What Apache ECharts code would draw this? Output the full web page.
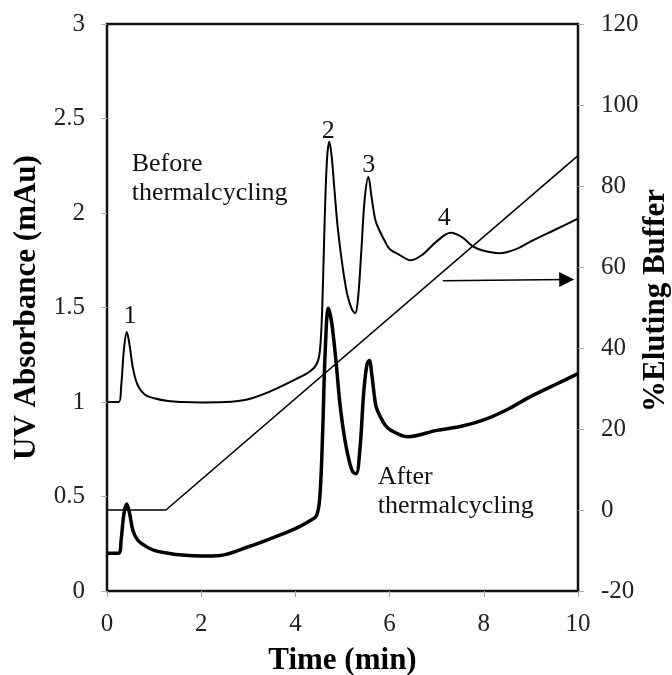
<!DOCTYPE html>
<html>
<head>
<meta charset="utf-8">
<script src="https://cdn.jsdelivr.net/npm/echarts@6/dist/echarts.min.js"></script>
<style>html,body{margin:0;padding:0;background:#fff;overflow:hidden}#c{width:672px;height:675px;display:block}</style>
</head>
<body>
<div id="c"></div>
<script>
// ---- data ----
var xTicks = [0, 2, 4, 6, 8, 10];
var leftTicks = [0, 0.5, 1, 1.5, 2, 2.5, 3];
var rightTicks = [-20, 0, 20, 40, 60, 80, 100, 120];

var beforeX = [0, 0.25, 0.3, 0.36, 0.42, 0.48, 0.55, 0.65, 0.8, 1.0, 1.3, 1.6, 2.0, 2.5, 3.0, 3.5, 4.0, 4.3, 4.45, 4.52, 4.57, 4.62, 4.67, 4.72, 4.77, 4.83, 4.9, 5.0, 5.1, 5.2, 5.27, 5.33, 5.4, 5.47, 5.55, 5.62, 5.7, 5.78, 5.9, 6.0, 6.2, 6.45, 6.7, 7.0, 7.3, 7.55, 7.76, 8.0, 8.33, 8.7, 9.0, 9.5, 10.0];
var beforeY = [1.0, 1.0, 1.08, 1.28, 1.37, 1.3, 1.18, 1.09, 1.04, 1.02, 1.005, 1.0, 0.998, 1.0, 1.015, 1.06, 1.12, 1.16, 1.2, 1.27, 1.5, 1.95, 2.28, 2.377, 2.3, 2.12, 1.92, 1.72, 1.57, 1.49, 1.47, 1.55, 1.8, 2.07, 2.19, 2.08, 1.96, 1.91, 1.85, 1.81, 1.78, 1.75, 1.78, 1.85, 1.895, 1.87, 1.825, 1.8, 1.787, 1.81, 1.85, 1.91, 1.97];

var afterX = [0, 0.25, 0.3, 0.36, 0.42, 0.48, 0.55, 0.65, 0.8, 1.0, 1.3, 1.6, 2.0, 2.4, 3.0, 3.5, 4.0, 4.3, 4.45, 4.52, 4.58, 4.63, 4.7, 4.77, 4.86, 4.95, 5.05, 5.15, 5.22, 5.29, 5.37, 5.45, 5.52, 5.57, 5.62, 5.7, 5.75, 5.9, 6.03, 6.38, 7.0, 7.5, 8.0, 8.5, 9.0, 9.5, 10.0];
var afterY = [0.2, 0.2, 0.27, 0.41, 0.46, 0.41, 0.32, 0.27, 0.24, 0.215, 0.2, 0.19, 0.185, 0.188, 0.234, 0.28, 0.33, 0.37, 0.4, 0.5, 0.85, 1.25, 1.496, 1.42, 1.22, 0.98, 0.8, 0.68, 0.63, 0.62, 0.75, 1.05, 1.2, 1.22, 1.15, 0.99, 0.95, 0.88, 0.85, 0.816, 0.85, 0.87, 0.905, 0.96, 1.03, 1.09, 1.15];

var gradientX = [0, 1.25, 10];
var gradientY = [0, 0, 87.5];

var arrowStart = [7.13, 1.642];
var arrowEnd = [9.76, 1.648];

var peakLabels = ['1', '2', '3', '4'];
var peakLabelX = [0.49, 4.70, 5.556, 7.16];
var peakLabelY = [1.455, 2.434, 2.254, 1.974];

var noteTexts = ['Before\nthermalcycling', 'After\nthermalcycling'];
var noteX = [0.524, 5.75];
var noteY = [2.18, 0.525];

function zip(a, b) { return a.map(function (v, i) { return [v, b[i]]; }); }

var FONT = '"Liberation Serif", "Times New Roman", serif';
var chart = echarts.init(document.getElementById('c'), null, { renderer: 'canvas', width: 672, height: 675 });

var option = {
  animation: false,
  backgroundColor: '#fff',
  grid: { left: 107, right: 94, top: 24, bottom: 84, containLabel: false, outerBoundsMode: 'none',
    show: true, borderColor: '#111', borderWidth: 2.5, backgroundColor: 'transparent' },
  xAxis: {
    type: 'value', min: 0, max: 10, interval: 2,
    name: 'Time (min)', nameLocation: 'middle', nameGap: 54, nameMoveOverlap: false,
    nameTextStyle: { fontFamily: FONT, fontWeight: 'bold', fontSize: 31, color: '#000' },
    axisLine: { show: false },
    axisTick: { show: true, length: 6, lineStyle: { color: '#aaa', width: 1 } },
    axisLabel: { fontFamily: FONT, fontSize: 25, color: '#222', margin: 21,
      formatter: function (v) { return xTicks.indexOf(v) >= 0 ? String(v) : ''; } },
    splitLine: { show: false }
  },
  yAxis: [{
    type: 'value', min: 0, max: 3, interval: 0.5, position: 'left',
    name: 'UV Absorbance (mAu)', nameLocation: 'middle', nameGap: 65, nameRotate: 90, nameMoveOverlap: false,
    nameTextStyle: { fontFamily: FONT, fontWeight: 'bold', fontSize: 31, color: '#000' },
    axisLine: { show: false },
    axisTick: { show: true, length: 6, lineStyle: { color: '#aaa', width: 1 } },
    axisLabel: { fontFamily: FONT, fontSize: 25, color: '#222', margin: 22,
      formatter: function (v) { return leftTicks.indexOf(v) >= 0 ? String(v) : ''; } },
    splitLine: { show: false }
  }, {
    type: 'value', min: -20, max: 120, interval: 20, position: 'right',
    name: '%Eluting Buffer', nameLocation: 'middle', nameGap: 62, nameRotate: 90,
    nameMoveOverlap: false,
    nameTextStyle: { fontFamily: FONT, fontWeight: 'bold', fontSize: 31, color: '#000', padding: [0, 0, 0, 14] },
    axisLine: { show: false },
    axisTick: { show: true, length: 6, lineStyle: { color: '#aaa', width: 1 } },
    axisLabel: { fontFamily: FONT, fontSize: 25, color: '#222', margin: 23,
      formatter: function (v) { return rightTicks.indexOf(v) >= 0 ? String(v) : ''; } },
    splitLine: { show: false }
  }],
  series: [{
    name: 'Before', type: 'line', yAxisIndex: 0, data: zip(beforeX, beforeY),
    smooth: 0.35, symbol: 'none', lineStyle: { color: '#000', width: 2 }, z: 3
  }, {
    name: 'After', type: 'line', yAxisIndex: 0, data: zip(afterX, afterY),
    smooth: 0.35, symbol: 'none', lineStyle: { color: '#000', width: 3.5 }, z: 3
  }, {
    name: 'Gradient', type: 'line', yAxisIndex: 1, data: zip(gradientX, gradientY),
    symbol: 'none', lineStyle: { color: '#000', width: 1.6 }, z: 2
  }, {
    name: 'Arrow', type: 'line', yAxisIndex: 0, data: [],
    markLine: {
      silent: true, symbol: ['none', 'triangle'], symbolSize: [15, 15],
      lineStyle: { color: '#000', width: 1.5, type: 'solid' },
      label: { show: false },
      data: [[{ coord: arrowStart }, { coord: arrowEnd }]]
    }
  }]
};
chart.setOption(option);

var graphics = [];
peakLabels.forEach(function (t, i) {
  var p = chart.convertToPixel({ xAxisIndex: 0, yAxisIndex: 0 }, [peakLabelX[i], peakLabelY[i]]);
  graphics.push({ type: 'text', x: p[0], y: p[1], z: 10,
    style: { text: t, font: '26px ' + FONT, fill: '#111', textAlign: 'center', textVerticalAlign: 'middle' } });
});
noteTexts.forEach(function (t, i) {
  var p = chart.convertToPixel({ xAxisIndex: 0, yAxisIndex: 0 }, [noteX[i], noteY[i]]);
  graphics.push({ type: 'text', x: p[0], y: p[1], z: 10,
    style: { text: t, font: '26px ' + FONT, lineHeight: 29, fill: '#111', textAlign: 'left', textVerticalAlign: 'middle' } });
});
chart.setOption({ graphic: graphics });
</script>
</body>
</html>
